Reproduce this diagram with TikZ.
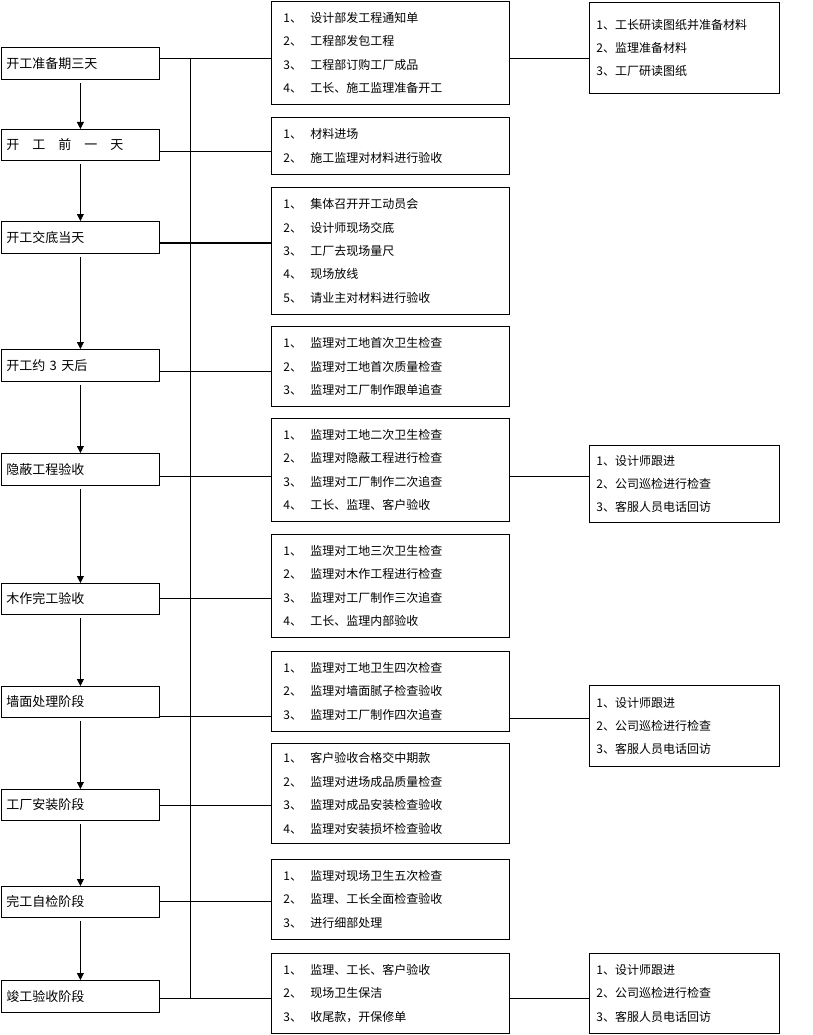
\documentclass[tikz,border=0pt]{standalone}
\usepackage{fontspec}
\setmainfont{Noto Sans CJK SC}
\usetikzlibrary{arrows.meta, positioning}

\newcommand{\itm}[1]{\makebox[27pt][l]{#1}}

\begin{document}
\begin{tikzpicture}[
        x=1pt, y=-1pt,
        every node/.style={draw, thick, inner sep=0pt, font=\fontsize{13}{23.4}\selectfont},
        stagebox/.style={anchor=north west, minimum width=158pt, text width=148pt, align=left},
        midbox/.style={anchor=north west, minimum width=238pt, text width=214pt, align=left, font=\fontsize{12}{23.4}\selectfont},
        sidebox/.style={anchor=north west, minimum width=190pt, text width=176pt, align=left, font=\fontsize{12}{23.4}\selectfont},
        arrow/.style={-{Triangle[length=7pt, width=7pt]}, thick},
        link/.style={thick}
    ]
    \useasboundingbox (0,0) rectangle (812,1035);

    % Stages
    \node [stagebox, minimum height=32pt] (s1) at (1,47) {开工准备期三天};
    \node [stagebox, minimum height=31pt] (s2) at (1,129) {开\quad 工\quad 前\quad 一\quad 天};
    \node [stagebox, minimum height=32pt] (s3) at (1,221) {开工交底当天};
    \node [stagebox, minimum height=32pt] (s4) at (1,349) {开工约 3 天后};
    \node [stagebox, minimum height=32pt] (s5) at (1,453) {隐蔽工程验收};
    \node [stagebox, minimum height=31pt] (s6) at (1,583) {木作完工验收};
    \node [stagebox, minimum height=31pt] (s7) at (1,686) {墙面处理阶段};
    \node [stagebox, minimum height=31pt] (s8) at (1,789) {工厂安装阶段};
    \node [stagebox, minimum height=31pt] (s9) at (1,886) {完工自检阶段};
    \node [stagebox, minimum height=32pt] (s10) at (1,980) {竣工验收阶段};

    % Tasks
    \node [midbox, minimum height=103pt] (m1) at (271,1) {\itm{1、}设计部发工程通知单\\ \itm{2、}工程部发包工程\\ \itm{3、}工程部订购工厂成品\\ \itm{4、}工长、施工监理准备开工};
    \node [midbox, minimum height=57pt] (m2) at (271,117) {\itm{1、}材料进场\\ \itm{2、}施工监理对材料进行验收};
    \node [midbox, minimum height=127pt] (m3) at (271,187) {\itm{1、}集体召开开工动员会\\ \itm{2、}设计师现场交底\\ \itm{3、}工厂去现场量尺\\ \itm{4、}现场放线\\ \itm{5、}请业主对材料进行验收};
    \node [midbox, minimum height=80pt] (m4) at (271,326) {\itm{1、}监理对工地首次卫生检查\\ \itm{2、}监理对工地首次质量检查\\ \itm{3、}监理对工厂制作跟单追查};
    \node [midbox, minimum height=103pt] (m5) at (271,418) {\itm{1、}监理对工地二次卫生检查\\ \itm{2、}监理对隐蔽工程进行检查\\ \itm{3、}监理对工厂制作二次追查\\ \itm{4、}工长、监理、客户验收};
    \node [midbox, minimum height=103pt] (m6) at (271,534) {\itm{1、}监理对工地三次卫生检查\\ \itm{2、}监理对木作工程进行检查\\ \itm{3、}监理对工厂制作三次追查\\ \itm{4、}工长、监理内部验收};
    \node [midbox, minimum height=80pt] (m7) at (271,651) {\itm{1、}监理对工地卫生四次检查\\ \itm{2、}监理对墙面腻子检查验收\\ \itm{3、}监理对工厂制作四次追查};
    \node [midbox, minimum height=100pt] (m8) at (271,743) {\itm{1、}客户验收合格交中期款\\ \itm{2、}监理对进场成品质量检查\\ \itm{3、}监理对成品安装检查验收\\ \itm{4、}监理对安装损坏检查验收};
    \node [midbox, minimum height=80pt] (m9) at (271,859) {\itm{1、}监理对现场卫生五次检查\\ \itm{2、}监理、工长全面检查验收\\ \itm{3、}进行细部处理};
    \node [midbox, minimum height=80pt] (m10) at (271,953) {\itm{1、}监理、工长、客户验收\\ \itm{2、}现场卫生保洁\\ \itm{3、}收尾款，开保修单};

    % Follow-up
    \node [sidebox, minimum height=91pt] (r1) at (589,2) {1、工长研读图纸并准备材料\\ 2、监理准备材料\\ 3、工厂研读图纸};
    \node [sidebox, minimum height=77pt] (r5) at (589,445) {1、设计师跟进\\ 2、公司巡检进行检查\\ 3、客服人员电话回访};
    \node [sidebox, minimum height=81pt] (r7) at (589,685) {1、设计师跟进\\ 2、公司巡检进行检查\\ 3、客服人员电话回访};
    \node [sidebox, minimum height=80pt] (r10) at (589,953) {1、设计师跟进\\ 2、公司巡检进行检查\\ 3、客服人员电话回访};

    % Flow arrows
    \foreach \a/\b in {s1/s2, s2/s3, s3/s4, s4/s5, s5/s6, s6/s7, s7/s8, s8/s9, s9/s10}
        \draw[arrow, shorten <=3pt] (\a.south) -- (\b.north);

    % Links
    \coordinate (top) at (190,58);
    \coordinate (bot) at (190,998);
    \draw[link] (top) -- (bot);
    \foreach \s/\m/\y in {s1/m1/58, s2/m2/151, s3/m3/243, s4/m4/371, s5/m5/476, s6/m6/598, s7/m7/716, s8/m8/805, s9/m9/901, s10/m10/998}
        \draw[link] (\s.east |- 0,\y) -- (\m.west |- 0,\y);
    \draw[very thick] (s3.east |- 0,243) -- (m3.west |- 0,243);
    \foreach \m/\r/\y in {m1/r1/58, m5/r5/476, m7/r7/718, m10/r10/998}
        \draw[link] (\m.east |- 0,\y) -- (\r.west |- 0,\y);
\end{tikzpicture}
\end{document}
